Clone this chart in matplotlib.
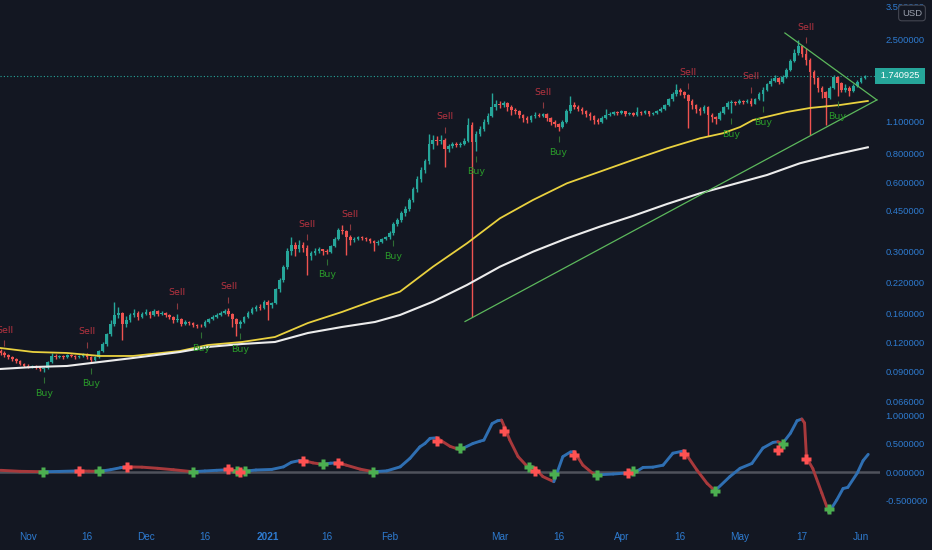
import matplotlib
matplotlib.use("Agg")
import matplotlib.pyplot as plt
import matplotlib.transforms as mtransforms
from matplotlib.collections import LineCollection
from matplotlib.ticker import FuncFormatter, NullLocator, NullFormatter

# daily candles, index 0 = 25 Oct 2020 ... 220 = 2 Jun 2021
first_open = 0.110
closes = [
    0.108, 0.106, 0.104, 0.102, 0.100, 0.097, 0.095, 0.094, 0.095, 0.094,
    0.092, 0.093, 0.099, 0.105, 0.104, 0.105, 0.104, 0.106, 0.105, 0.104,
    0.105, 0.106, 0.104, 0.101, 0.104, 0.110, 0.118, 0.130, 0.145, 0.158,
    0.162, 0.145, 0.150, 0.158, 0.162, 0.155, 0.160, 0.163, 0.158, 0.165,
    0.160, 0.162, 0.158, 0.155, 0.150, 0.152, 0.145, 0.148, 0.146, 0.143,
    0.142, 0.141, 0.148, 0.152, 0.155, 0.158, 0.162, 0.164, 0.160, 0.152,
    0.145, 0.148, 0.155, 0.162, 0.168, 0.172, 0.170, 0.180, 0.175, 0.178,
    0.205, 0.225, 0.255, 0.300, 0.318, 0.305, 0.320, 0.310, 0.285, 0.295,
    0.300, 0.305, 0.300, 0.298, 0.315, 0.340, 0.370, 0.368, 0.345, 0.335,
    0.340, 0.345, 0.342, 0.340, 0.332, 0.325, 0.330, 0.340, 0.345, 0.360,
    0.395, 0.410, 0.440, 0.460, 0.500, 0.560, 0.620, 0.680, 0.740, 0.880,
    0.920, 0.910, 0.920, 0.840, 0.860, 0.880, 0.870, 0.880, 0.910, 1.060,
    0.900, 0.970, 1.020, 1.100, 1.170, 1.280, 1.320, 1.300, 1.330, 1.280,
    1.240, 1.220, 1.180, 1.140, 1.120, 1.160, 1.180, 1.170, 1.190, 1.140,
    1.100, 1.070, 1.040, 1.100, 1.220, 1.300, 1.280, 1.250, 1.220, 1.190,
    1.160, 1.120, 1.100, 1.140, 1.180, 1.190, 1.210, 1.200, 1.220, 1.190,
    1.200, 1.180, 1.210, 1.200, 1.220, 1.190, 1.200, 1.220, 1.250, 1.300,
    1.380, 1.450, 1.520, 1.480, 1.440, 1.350, 1.300, 1.250, 1.220, 1.280,
    1.180, 1.150, 1.130, 1.200, 1.270, 1.330, 1.340, 1.330, 1.360, 1.340,
    1.360, 1.320, 1.380, 1.460, 1.520, 1.600, 1.660, 1.700, 1.640, 1.720,
    1.850, 2.020, 2.200, 2.350, 2.180, 2.050, 1.820, 1.700, 1.550, 1.480,
    1.400, 1.550, 1.720, 1.620, 1.520, 1.550, 1.500, 1.580, 1.640, 1.700,
    1.741,
]
highs = [
    0.112, 0.110, 0.107, 0.105, 0.103, 0.101, 0.098, 0.097, 0.096, 0.096,
    0.095, 0.094, 0.100, 0.108, 0.107, 0.106, 0.106, 0.107, 0.107, 0.106,
    0.106, 0.108, 0.108, 0.105, 0.105, 0.111, 0.120, 0.132, 0.150, 0.180,
    0.172, 0.163, 0.156, 0.162, 0.168, 0.164, 0.163, 0.168, 0.165, 0.168,
    0.166, 0.164, 0.163, 0.160, 0.157, 0.160, 0.153, 0.150, 0.149, 0.147,
    0.145, 0.144, 0.150, 0.154, 0.158, 0.161, 0.165, 0.168, 0.170, 0.162,
    0.154, 0.150, 0.157, 0.164, 0.171, 0.175, 0.176, 0.183, 0.184, 0.180,
    0.208, 0.230, 0.262, 0.310, 0.345, 0.330, 0.335, 0.328, 0.318, 0.300,
    0.310, 0.312, 0.308, 0.305, 0.320, 0.345, 0.380, 0.390, 0.372, 0.352,
    0.345, 0.350, 0.348, 0.346, 0.343, 0.336, 0.334, 0.343, 0.350, 0.366,
    0.400, 0.420, 0.450, 0.470, 0.510, 0.570, 0.640, 0.700, 0.760, 0.970,
    0.960, 0.950, 0.960, 0.935, 0.880, 0.895, 0.900, 0.895, 0.930, 1.140,
    1.100, 1.000, 1.050, 1.130, 1.200, 1.470, 1.370, 1.350, 1.360, 1.345,
    1.300, 1.260, 1.235, 1.190, 1.160, 1.180, 1.210, 1.200, 1.200, 1.200,
    1.150, 1.115, 1.090, 1.120, 1.250, 1.420, 1.340, 1.300, 1.270, 1.240,
    1.210, 1.175, 1.140, 1.160, 1.250, 1.210, 1.230, 1.225, 1.240, 1.230,
    1.215, 1.210, 1.280, 1.230, 1.240, 1.230, 1.215, 1.240, 1.270, 1.320,
    1.400, 1.480, 1.600, 1.540, 1.500, 1.460, 1.380, 1.320, 1.270, 1.300,
    1.290, 1.200, 1.170, 1.220, 1.290, 1.360, 1.370, 1.360, 1.380, 1.370,
    1.380, 1.400, 1.400, 1.480, 1.560, 1.630, 1.700, 1.760, 1.720, 1.750,
    1.880, 2.060, 2.280, 2.500, 2.380, 2.300, 2.080, 1.850, 1.720, 1.580,
    1.500, 1.580, 1.760, 1.740, 1.640, 1.600, 1.580, 1.600, 1.670, 1.720,
    1.760,
]
lows = [
    0.106, 0.104, 0.102, 0.100, 0.098, 0.096, 0.094, 0.093, 0.093, 0.092,
    0.090, 0.089, 0.092, 0.098, 0.102, 0.103, 0.102, 0.103, 0.104, 0.102,
    0.103, 0.104, 0.102, 0.098, 0.100, 0.103, 0.109, 0.116, 0.128, 0.142,
    0.154, 0.123, 0.140, 0.148, 0.155, 0.150, 0.153, 0.158, 0.154, 0.156,
    0.157, 0.158, 0.155, 0.152, 0.146, 0.148, 0.142, 0.143, 0.143, 0.140,
    0.139, 0.140, 0.140, 0.146, 0.150, 0.153, 0.156, 0.160, 0.156, 0.140,
    0.128, 0.138, 0.146, 0.153, 0.160, 0.165, 0.166, 0.168, 0.150, 0.170,
    0.176, 0.200, 0.220, 0.250, 0.290, 0.285, 0.298, 0.296, 0.235, 0.275,
    0.288, 0.295, 0.290, 0.292, 0.294, 0.312, 0.335, 0.355, 0.290, 0.320,
    0.328, 0.336, 0.335, 0.333, 0.325, 0.300, 0.318, 0.326, 0.335, 0.340,
    0.352, 0.385, 0.400, 0.425, 0.450, 0.490, 0.545, 0.600, 0.660, 0.720,
    0.840, 0.870, 0.880, 0.700, 0.810, 0.845, 0.850, 0.855, 0.870, 0.900,
    0.155, 0.820, 0.950, 1.000, 1.080, 1.150, 1.240, 1.260, 1.270, 1.230,
    1.180, 1.190, 1.140, 1.100, 1.090, 1.100, 1.140, 1.150, 1.150, 1.110,
    1.060, 1.040, 1.000, 1.030, 1.090, 1.200, 1.250, 1.220, 1.190, 1.150,
    1.120, 1.080, 1.070, 1.090, 1.130, 1.160, 1.180, 1.180, 1.190, 1.170,
    1.175, 1.160, 1.170, 1.180, 1.190, 1.170, 1.175, 1.190, 1.210, 1.240,
    1.290, 1.360, 1.430, 1.440, 1.400, 1.030, 1.250, 1.200, 1.180, 1.200,
    0.950, 1.100, 1.080, 1.120, 1.190, 1.250, 1.200, 1.300, 1.310, 1.320,
    1.330, 1.290, 1.310, 1.370, 1.350, 1.500, 1.580, 1.640, 1.600, 1.620,
    1.700, 1.830, 2.000, 2.150, 2.100, 1.950, 0.960, 1.600, 1.480, 1.400,
    1.060, 1.380, 1.530, 1.430, 1.480, 1.490, 1.420, 1.480, 1.560, 1.620,
    1.690,
]
last_price = 1.740925

sell_idx = [1, 22, 45, 58, 78, 89, 113, 138, 175, 191, 205]
buy_idx = [11, 23, 51, 61, 83, 100, 121, 142, 186, 194, 213]

# moving averages at these bar positions
yellow_idx = [0, 8.27, 16.92, 25.32, 33.72, 45.67, 52.8, 61.45, 69.85, 78.24,
              86.9, 95.29, 101.65, 110.05, 118.7, 127.1, 135.5, 144.15, 152.5,
              160.9, 169.6, 178.0, 183.8, 188.2, 191.5, 200.1, 206.0, 213.6, 220.7]
ma_yellow = [0.1134, 0.1090, 0.1079, 0.1047, 0.1047, 0.1101, 0.1169, 0.1205,
             0.1267, 0.1458, 0.1629, 0.1837, 0.1997, 0.2566, 0.3246, 0.4172,
             0.5014, 0.5929, 0.6661, 0.7492, 0.8426, 0.9315, 0.9795, 1.043,
             1.119, 1.213, 1.263, 1.301, 1.355]
white_idx = [0, 8.27, 16.92, 25.32, 33.72, 45.67, 52.8, 61.45, 69.85, 78.24,
             86.9, 95.29, 101.65, 110.05, 118.7, 127.1, 135.5, 144.15, 152.5,
             160.9, 169.6, 178.0, 186.4, 195.04, 203.4, 211.8, 220.7]
ma_white = [0.0919, 0.0937, 0.0947, 0.0986, 0.1026, 0.1090, 0.1146, 0.1181,
            0.1205, 0.1319, 0.1401, 0.1473, 0.1580, 0.1806, 0.2136, 0.2566,
            0.2983, 0.3413, 0.3835, 0.4269, 0.4816, 0.5362, 0.5870, 0.6444,
            0.7247, 0.7877, 0.8510]

# triangle trendlines (bar index, price)
tri_lower = [(118.2, 0.1480), (223.0, 1.369)]
tri_upper = [(199.6, 2.681), (223.0, 1.369)]

# oscillator
osc_x = [0, 5, 10.9, 15, 20.1, 22.5, 25.1, 28, 30.5, 32.1, 36, 40, 44, 48.9, 52,
         55, 58, 60.1, 61, 62.2, 65, 69, 72, 74, 76, 77, 79.5, 82, 84, 86, 88,
         91.5, 94.9, 98.3, 101.7, 104.2, 106.7, 108, 109.3, 111, 114.4, 116.9,
         120.2, 122, 123, 125.1, 126.5, 127.5, 128.5, 129.6, 131.7, 134, 134.6,
         135.3, 136.5, 138, 140.8, 143.1, 145, 146, 148.2, 150.8, 151.9, 155.9,
         159.8, 161, 163.5, 166, 168.6, 171.1, 173.9, 177.2, 179.8, 181.8, 185.6,
         188.2, 191.2, 194, 196.6, 197.8, 199, 201, 202.7, 203.9, 204.6, 205.1,
         206.7, 209, 210.8, 212.8, 214.4, 215.6, 218, 219.5, 220.8]
osc_v = [0.03, 0.012, 0.005, 0.01, 0.02, 0.015, 0.012, 0.04, 0.075, 0.09, 0.085,
         0.065, 0.04, 0.005, 0.018, 0.03, 0.04, 0.02, 0.025, 0.015, 0.035, 0.045,
         0.09, 0.17, 0.2, 0.205, 0.16, 0.135, 0.155, 0.16, 0.12, 0.05, 0.005,
         0.02, 0.09, 0.24, 0.44, 0.5, 0.59, 0.6, 0.45, 0.39, 0.5, 0.54, 0.56,
         0.85, 0.9, 0.91, 0.75, 0.56, 0.27, 0.1, 0.085, 0.09, 0.03, -0.08, -0.17,
         0.27, 0.35, 0.36, 0.12, -0.03, -0.05, -0.035, -0.015, -0.025, 0.08,
         0.085, 0.12, 0.33, 0.37, 0.035, -0.2, -0.33, -0.08, 0.065, 0.15, 0.42,
         0.52, 0.53, 0.5, 0.68, 0.9, 0.93, 0.86, 0.25, 0.06, -0.37, -0.71, -0.49,
         -0.29, -0.27, -0.02, 0.2, 0.31]
up_x = [10.9, 25.1, 48.9, 60.1, 62.2, 82, 94.9, 116.9, 134.6, 140.8, 151.9, 161,
        181.8, 199, 210.9]
up_v = [0.005, 0.02, 0.005, 0.02, 0.02, 0.135, 0.005, 0.415, 0.09, -0.035, -0.05,
        0.02, -0.33, 0.49, -0.65]
dn_x = [20.1, 32.1, 58, 61, 77, 86, 111, 128.1, 136, 146, 159.8, 173.9, 197.8, 205]
dn_v = [0.02, 0.09, 0.047, 0.005, 0.19, 0.15, 0.55, 0.72, 0.02, 0.30, -0.02,
        0.32, 0.39, 0.22]

price_ticks = [3.5, 2.5, 1.1, 0.8, 0.6, 0.45, 0.3, 0.22, 0.16, 0.12, 0.09, 0.066]
osc_ticks = [1.0, 0.5, 0.0, -0.5]
date_idx = [7, 22, 37, 52, 68, 83, 99, 127, 142, 158, 173, 188, 204, 219]
date_labels = ['Nov', '16', 'Dec', '16', '2021', '16', 'Feb', 'Mar', '16', 'Apr',
               '16', 'May', '17', 'Jun']

bg = '#131722'
axis_col = '#2e7bd0'
up_col = '#26a69a'
dn_col = '#ef5350'
lab_font = ['Liberation Sans', 'DejaVu Sans']
lab_size = 6.7

fig = plt.figure(figsize=(9.32, 5.5), dpi=100, facecolor=bg)
W, H = 932, 550
ax = fig.add_axes([0, 1 - 408 / H, 880 / W, 408 / H])
ax2 = fig.add_axes([0, 1 - 520 / H, 880 / W, 112 / H], sharex=ax)

for a in (ax, ax2):
    a.set_facecolor(bg)
    for s in a.spines.values():
        s.set_visible(False)

# candles
opens = [first_open] + closes[:-1]
idx = list(range(len(closes)))
cols = [up_col if c >= o else dn_col for o, c in zip(opens, closes)]
ax.vlines(idx, lows, highs, colors=cols, linewidth=1, zorder=3)
bottoms = [min(o, c) for o, c in zip(opens, closes)]
heights = [max(abs(c - o), min(o, c) * 0.006) for o, c in zip(opens, closes)]
ax.bar(idx, heights, bottom=bottoms, width=0.66, color=cols, linewidth=0, zorder=4)

# averages and trendlines
ax.plot(yellow_idx, ma_yellow, color='#e9d13f', lw=1.3, zorder=5)
ax.plot(white_idx, ma_white, color='#ececec', lw=1.5, zorder=5)
for seg in (tri_lower, tri_upper):
    ax.plot([p[0] for p in seg], [p[1] for p in seg], color='#5cb85c', lw=0.9, zorder=5)

ax.axhline(last_price, color=up_col, lw=0.8, ls=(0, (1, 2)), zorder=2)

# buy / sell markers
def off(dy):
    return mtransforms.offset_copy(ax.transData, fig=fig, x=0, y=dy, units='dots')

for i in sell_idx:
    ax.text(i, highs[i], 'Sell', transform=off(21), ha='center', va='center',
            fontsize=6.8, color='#b53340', zorder=6)
    ax.plot([i], [highs[i]], marker='|', markersize=4.5, mew=0.8, color='#8c3a40',
            transform=off(8), zorder=6)
for i in buy_idx:
    ax.text(i, lows[i], 'Buy', transform=off(-21), ha='center', va='center',
            fontsize=6.8, color='#2a9a2a', zorder=6)
    ax.plot([i], [lows[i]], marker='|', markersize=4.5, mew=0.8, color='#2f6e34',
            transform=off(-8), zorder=6)

ax.set_yscale('log')
ax.set_ylim(0.0621, 3.734)
ax.set_xlim(-0.13, 223.8)
ax.set_yticks(price_ticks)
ax.yaxis.set_major_formatter(FuncFormatter(lambda v, p: f'{v:.6f}'))
ax.yaxis.set_minor_locator(NullLocator())
ax.yaxis.set_minor_formatter(NullFormatter())
ax.yaxis.tick_right()
ax.tick_params(axis='y', length=0, pad=4, labelcolor=axis_col, labelsize=lab_size)
ax.tick_params(axis='x', bottom=False, labelbottom=False)
for t in ax.get_yticklabels():
    t.set_family(lab_font)

# last price tag
blend = mtransforms.blended_transform_factory(ax.transAxes, ax.transData)
ax.text(0.998, last_price, ' 1.740925 ', transform=blend, ha='left', va='center',
        fontsize=lab_size, family=lab_font, color='white', zorder=10, clip_on=False,
        bbox=dict(boxstyle='square,pad=0.35', fc=up_col, ec='none'))

fig.text(912 / W, 1 - 13 / H, 'USD', ha='center', va='center', fontsize=6.8,
         family=lab_font, color='#9aa0ad',
         bbox=dict(boxstyle='round,pad=0.35', fc=bg, ec='#434651', lw=0.8))

# oscillator pane
ax2.axhline(0, color='#4f525c', lw=1.8, zorder=1)
pts = list(zip(osc_x, osc_v))
segs = [[pts[k], pts[k + 1]] for k in range(len(pts) - 1)]
seg_cols = ['#2f6fb2' if pts[k + 1][1] >= pts[k][1] else '#a8393c'
            for k in range(len(pts) - 1)]
ax2.add_collection(LineCollection(segs, colors=seg_cols, linewidths=2.1,
                                  capstyle='round', zorder=3))
ax2.plot(up_x, up_v, ls='none', marker='P', markersize=7, color='#4caf50',
         mec='none', zorder=4)
ax2.plot(dn_x, dn_v, ls='none', marker='P', markersize=7, color='#ff5252',
         mec='none', zorder=4)
ax2.set_ylim(-0.842, 1.123)
ax2.set_yticks(osc_ticks)
ax2.yaxis.set_major_formatter(FuncFormatter(lambda v, p: f'{v:.6f}'))
ax2.yaxis.tick_right()
ax2.tick_params(axis='y', length=0, pad=4, labelcolor=axis_col, labelsize=lab_size)
ax2.set_xticks(date_idx)
ax2.set_xticklabels(date_labels)
ax2.tick_params(axis='x', length=0, pad=9, labelcolor=axis_col, labelsize=7.2)
for t in ax2.get_yticklabels() + ax2.get_xticklabels():
    t.set_family(lab_font)
for t in ax2.get_xticklabels():
    if t.get_text() == '2021':
        t.set_fontweight('bold')

fig.savefig('out.png', dpi=100, facecolor=bg)
